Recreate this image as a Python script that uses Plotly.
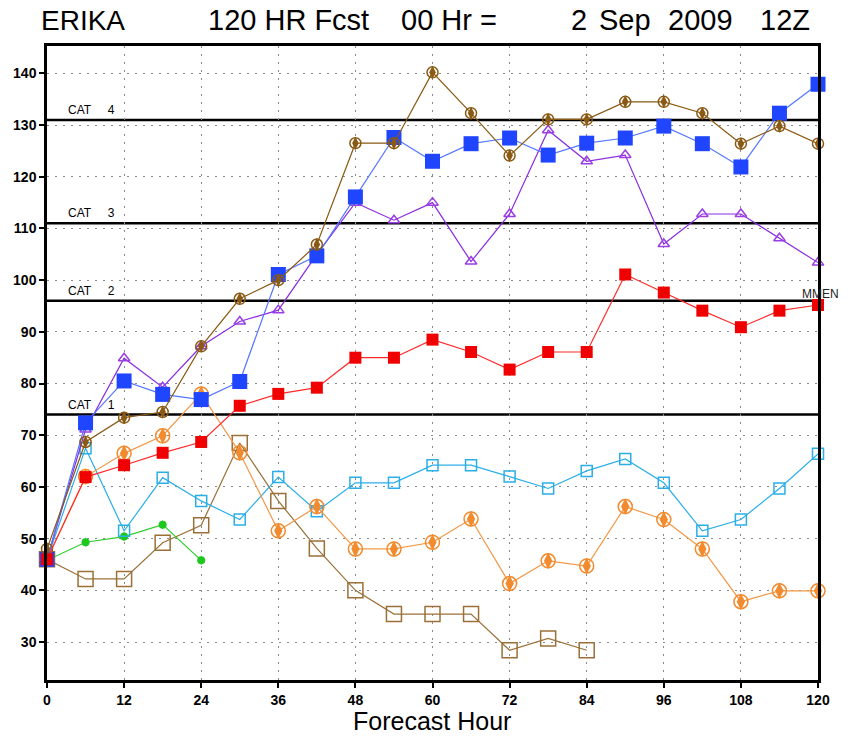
import plotly.graph_objects as go

# Forecast hours (every 6 h out to 120 h)
hours = [0, 6, 12, 18, 24, 30, 36, 42, 48, 54, 60, 66, 72, 78, 84, 90, 96, 102, 108, 114, 120]

# Intensity forecasts (mph) for each guidance member
blue_sq = [46, 72.4, 80.5, 77.9, 76.9, 80.4, 101.1, 104.7, 116.1, 127.6, 123.0, 126.4, 127.5, 124.2,
           126.5, 127.5, 129.8, 126.4, 121.9, 132.3, 137.9]
brown_circ = [48.0, 68.7, 73.4, 74.5, 87.2, 96.4, 100.0, 106.9, 126.5, 126.5, 140.2, 132.3, 124.1, 131.1,
              131.1, 134.5, 134.5, 132.3, 126.4, 129.8, 126.4]
purple_tri = [46, 71.1, 84.9, 79.3, 87.2, 92.0, 94.2, 105.0, 115.0, 111.6, 115.0, 103.6, 112.8, 129.0,
              123.0, 124.2, 107.0, 112.8, 112.8, 108.1, 103.4]
red_sq = [46, 61.9, 64.2, 66.6, 68.7, 75.7, 78.0, 79.2, 85.0, 85.0, 88.5, 86.1, 82.7, 86.1,
          86.1, 101.1, 97.6, 94.1, 90.9, 94.1, 95.2]
orange_circ = [46, 62.0, 66.5, 69.9, 78.0, 66.6, 51.5, 56.2, 48.0, 48.0, 49.3, 53.8, 41.3, 45.7,
               44.7, 56.2, 53.7, 48.0, 37.8, 39.9, 39.9]
ltblue_sq = [46, 67.5, 51.5, 61.8, 57.3, 53.7, 61.9, 55.3, 60.8, 60.8, 64.2, 64.2, 62.0, 59.7,
             63.1, 65.4, 60.8, 51.5, 53.7, 59.7, 66.4]
brown_hours = hours[:15]
brown_sq = [46, 42.2, 42.2, 49.2, 52.6, 68.5, 57.3, 48.1, 40.0, 35.4, 35.4, 35.4, 28.4, 30.7, 28.4]
green_hours = hours[:5]
green_circ = [45.8, 49.3, 50.4, 52.7, 45.8]

# Saffir-Simpson category thresholds (mph)
cat_names = ["CAT     1", "CAT     2", "CAT     3", "CAT     4"]
cat_values = [74, 96, 111, 131]

x_ticks = [0, 12, 24, 36, 48, 60, 72, 84, 96, 108, 120]
y_ticks = [30, 40, 50, 60, 70, 80, 90, 100, 110, 120, 130, 140]

# Header words and their centre positions (page pixels)
header_words = ["ERIKA", "120 HR Fcst", "00 Hr =", "2", "Sep", "2009", "12Z"]
header_centres = [83, 288, 449, 579, 625, 700, 785]

# Plot-area edges in page pixels
PX_L, PX_R, PX_T, PX_B = 47, 818, 46, 680

fig = go.Figure()


def add_series(x, y, line_color, marker_color, symbol, size, open_marker=False, bar=False, lw=1.2):
    fig.add_trace(go.Scatter(
        x=x, y=y, mode="lines+markers",
        line=dict(color=line_color, width=lw),
        marker=dict(symbol=symbol, size=size, color=marker_color,
                    line=dict(color=marker_color, width=1.5 if open_marker else 0)),
        hoverinfo="skip", showlegend=False, cliponaxis=False,
    ))
    if bar:
        # filled vertical stripe through the circle marker
        fig.add_trace(go.Scatter(
            x=x, y=y, mode="markers",
            marker=dict(symbol="diamond-tall", size=size * 0.85, color=marker_color,
                        line=dict(width=0)),
            hoverinfo="skip", showlegend=False, cliponaxis=False,
        ))


add_series(brown_hours, brown_sq, "#9a7038", "#9a7038", "square-open", 15, open_marker=True)
add_series(green_hours, green_circ, "#2ccc2c", "#1ec81e", "circle", 8, bar=True)
add_series(hours, ltblue_sq, "#2aaee8", "#2aaee8", "square-open", 11, open_marker=True)
add_series(hours, orange_circ, "#f39848", "#f28a2e", "circle-open", 14, open_marker=True, bar=True)
add_series(hours, purple_tri, "#8a2be2", "#9a3ee6", "triangle-up-open", 10, open_marker=True)
add_series(hours, blue_sq, "#5577ff", "#1f45ff", "square", 15)
add_series(hours, brown_circ, "#8a5a14", "#8a5a14", "circle-open", 11, open_marker=True, bar=True)
add_series(hours, red_sq, "#ff2a2a", "#f00000", "square", 12)

# Category threshold lines and labels
for name, val in zip(cat_names, cat_values):
    fig.add_shape(type="line", xref="x", yref="y", x0=0, x1=120, y0=val, y1=val,
                  line=dict(color="black", width=2.5), layer="below")
    fig.add_annotation(x=3.0, y=val, xref="x", yref="y", text=name.replace(" ", "\u00a0"),
                       showarrow=False, xanchor="left", yanchor="bottom", yshift=1,
                       font=dict(family="Liberation Sans", size=12, color="black"))

fig.add_annotation(x=120, y=red_sq[-1], xref="x", yref="y", text="MMEN",
                   showarrow=False, xanchor="center", yanchor="bottom", yshift=2, xshift=2,
                   font=dict(family="Liberation Sans", size=12, color="#222"))


def px_to_paper(px, py):
    return (px - PX_L) / (PX_R - PX_L), (PX_B - py) / (PX_B - PX_T)


for word, cx in zip(header_words, header_centres):
    xp, yp = px_to_paper(cx, 20)
    fig.add_annotation(x=xp, y=yp, xref="paper", yref="paper", text=word.replace(" ", "\u00a0"),
                       showarrow=False, xanchor="center", yanchor="middle",
                       font=dict(family="Liberation Sans", size=28 if word == "ERIKA" else 29,
                                 color="black"))

# Axis title
xp, yp = px_to_paper(432, 721)
fig.add_annotation(x=xp, y=yp, xref="paper", yref="paper", text="Forecast Hour",
                   showarrow=False, xanchor="center", yanchor="middle",
                   font=dict(family="Liberation Sans", size=25, color="black"))

fig.update_layout(
    width=856, height=739,
    margin=dict(l=PX_L, r=856 - PX_R, t=PX_T, b=739 - PX_B, autoexpand=False),
    paper_bgcolor="white", plot_bgcolor="white",
    xaxis=dict(
        range=[0, 120], tickvals=x_ticks, ticktext=[str(v) for v in x_ticks],
        showgrid=True, gridcolor="#8a8a8a", gridwidth=1, griddash="2px,6px",
        showline=True, linecolor="black", linewidth=2.5, mirror=True,
        ticks="outside", ticklen=5, tickcolor="black", tickwidth=1.5,
        tickfont=dict(family="Liberation Sans", size=14, color="black", weight="bold"),
        automargin=False, zeroline=False,
    ),
    yaxis=dict(
        range=[22.65, 145.3], tickvals=y_ticks, ticktext=[str(v) for v in y_ticks],
        showgrid=True, gridcolor="#8a8a8a", gridwidth=1, griddash="2px,6px",
        showline=True, linecolor="black", linewidth=2.5, mirror=True,
        ticks="outside", ticklen=5, tickcolor="black", tickwidth=1.5,
        tickfont=dict(family="Liberation Sans", size=14, color="black", weight="bold"),
        automargin=False, zeroline=False,
    ),
)

fig.write_html("out.html")
